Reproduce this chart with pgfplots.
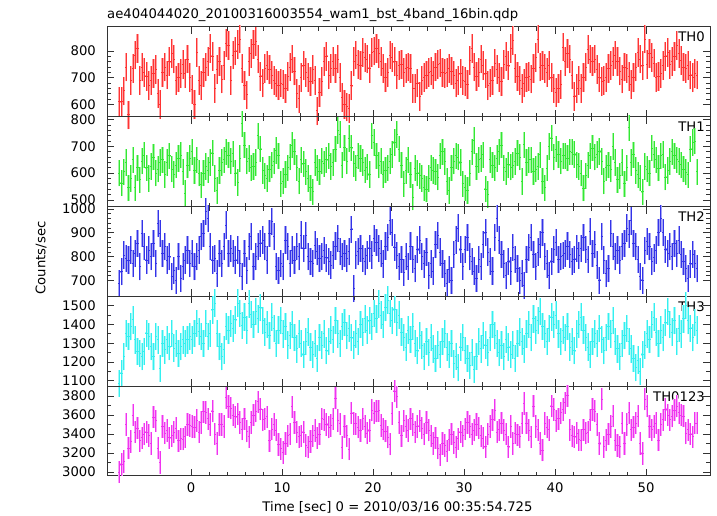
\documentclass[border=0pt]{standalone}
\usepackage{pgfplots}
\usepackage{pgfplotstable}
\pgfplotsset{compat=1.18}
\usepackage{fontspec}
\setmainfont{DejaVu Sans}
\newcommand\fs{\fontsize{13.2bp}{15.8bp}\selectfont}
\definecolor{cA}{RGB}{255,51,51}
\definecolor{cB}{RGB}{51,232,51}
\definecolor{cC}{RGB}{51,51,232}
\definecolor{cD}{RGB}{51,240,240}
\definecolor{cE}{RGB}{240,51,240}

% error-bar mark: vertical +-1 sigma (mark size) and horizontal bin width (0.25 s)
\pgfdeclareplotmark{eb}{%
  \pgfpathmoveto{\pgfqpoint{0pt}{-\pgfplotmarksize}}%
  \pgfpathlineto{\pgfqpoint{0pt}{\pgfplotmarksize}}%
  \pgfpathmoveto{\pgfqpoint{-1.14bp}{0pt}}%
  \pgfpathlineto{\pgfqpoint{1.14bp}{0pt}}%
  \pgfusepathqstroke}

% TH0 (0.25 s bins from t=-7.875 s)
\pgfplotstableread[row sep=\\]{y\\
610\\ 610\\ 650\\ 740\\ 560\\ 690\\ 735\\ 785\\ 810\\ 690\\
740\\ 720\\ 705\\ 670\\ 690\\ 715\\ 730\\ 640\\ 600\\ 720\\
740\\ 710\\ 760\\ 790\\ 770\\ 690\\ 700\\ 715\\ 750\\ 715\\
770\\ 700\\ 655\\ 600\\ 795\\ 690\\ 670\\ 720\\ 740\\ 760\\
810\\ 780\\ 660\\ 730\\ 760\\ 695\\ 745\\ 830\\ 820\\ 690\\
785\\ 800\\ 825\\ 845\\ 735\\ 670\\ 635\\ 760\\ 790\\ 825\\
835\\ 770\\ 705\\ 680\\ 735\\ 745\\ 730\\ 710\\ 690\\ 680\\
670\\ 680\\ 675\\ 660\\ 705\\ 740\\ 770\\ 725\\ 640\\ 620\\
700\\ 745\\ 720\\ 700\\ 685\\ 730\\ 690\\ 575\\ 645\\ 685\\
760\\ 780\\ 710\\ 735\\ 760\\ 735\\ 770\\ 700\\ 625\\ 600\\
590\\ 585\\ 670\\ 760\\ 785\\ 750\\ 745\\ 795\\ 775\\ 770\\
735\\ 795\\ 800\\ 810\\ 790\\ 760\\ 735\\ 700\\ 720\\ 785\\
775\\ 760\\ 710\\ 745\\ 750\\ 720\\ 735\\ 740\\
735\\ 660\\ 660\\ 680\\ 630\\ 690\\ 700\\ 710\\ 720\\ 725\\
710\\ 740\\ 750\\ 755\\ 720\\ 715\\ 720\\ 735\\ 725\\ 710\\
680\\ 690\\ 715\\ 690\\ 685\\ 675\\ 765\\ 810\\ 740\\ 705\\
720\\ 770\\ 745\\ 715\\ 670\\ 680\\ 690\\ 755\\ 730\\ 700\\
685\\ 750\\ 780\\ 745\\ 810\\ 840\\ 735\\ 705\\ 690\\ 660\\
680\\ 700\\ 705\\ 695\\ 735\\ 775\\ 845\\ 740\\ 745\\ 735\\
720\\ 745\\ 700\\ 660\\ 645\\ 660\\ 675\\ 815\\ 760\\ 790\\
770\\ 710\\ 630\\ 660\\ 690\\ 660\\ 700\\ 740\\ 805\\ 770\\
760\\ 770\\ 730\\ 700\\ 685\\ 690\\ 700\\ 735\\ 745\\ 760\\
785\\ 760\\ 725\\ 695\\ 740\\ 735\\ 705\\ 675\\ 700\\ 740\\
795\\ 770\\ 745\\ 845\\ 750\\ 790\\ 775\\ 755\\ 700\\ 705\\
715\\ 745\\ 780\\ 795\\ 750\\ 760\\ 780\\ 820\\ 790\\ 765\\
740\\ 735\\ 745\\ 710\\ 700\\ 715\\ 710\\
}\thA

% TH1
\pgfplotstableread[row sep=\\]{y\\
600\\ 563\\ 605\\ 640\\ 545\\ 580\\ 650\\ 545\\ 620\\ 575\\
645\\ 668\\ 620\\ 580\\ 625\\ 660\\ 600\\ 615\\ 640\\ 650\\
595\\ 640\\ 665\\ 615\\ 595\\ 630\\ 655\\ 668\\ 605\\ 525\\
630\\ 656\\ 680\\ 610\\ 650\\ 600\\ 556\\ 600\\ 625\\ 612\\
640\\ 675\\ 580\\ 535\\ 610\\ 640\\ 650\\ 680\\ 668\\ 645\\
672\\ 600\\ 565\\ 655\\ 785\\ 705\\ 645\\ 655\\ 620\\ 625\\
640\\ 740\\ 690\\ 610\\ 590\\ 580\\ 615\\ 630\\ 645\\ 685\\
665\\ 560\\ 570\\ 595\\ 620\\ 660\\ 705\\ 680\\ 620\\ 570\\
650\\ 635\\ 605\\ 580\\ 545\\ 530\\ 640\\ 620\\ 605\\ 645\\
635\\ 650\\ 665\\ 625\\ 640\\ 690\\ 760\\ 745\\ 630\\ 695\\
645\\ 730\\ 695\\ 635\\ 620\\ 665\\ 655\\ 640\\ 612\\ 622\\
595\\ 740\\ 715\\ 665\\ 630\\ 645\\ 595\\ 612\\ 620\\ 645\\
670\\ 715\\ 745\\ 690\\ 630\\ 560\\ 610\\ 650\\
594\\ 510\\ 619\\ 600\\ 590\\ 580\\ 545\\ 540\\ 580\\ 620\\
610\\ 605\\ 585\\ 665\\ 680\\ 644\\ 569\\ 535\\ 620\\ 645\\
665\\ 660\\ 640\\ 560\\ 545\\ 535\\ 600\\ 680\\ 722\\ 625\\
650\\ 655\\ 669\\ 540\\ 520\\ 650\\ 630\\ 620\\ 655\\ 680\\
705\\ 620\\ 606\\ 631\\ 622\\ 630\\ 644\\ 675\\ 660\\ 569\\
706\\ 640\\ 650\\ 650\\ 606\\ 615\\ 625\\ 669\\ 570\\ 545\\
619\\ 700\\ 731\\ 660\\ 690\\ 670\\ 645\\ 665\\ 665\\ 656\\
680\\ 678\\ 670\\ 631\\ 625\\ 600\\ 544\\ 590\\ 630\\ 665\\
694\\ 660\\ 670\\ 681\\ 644\\ 570\\ 620\\ 630\\ 615\\ 700\\
640\\ 575\\ 590\\ 640\\ 560\\ 620\\ 770\\ 640\\ 669\\ 610\\
594\\ 581\\ 531\\ 625\\ 615\\ 600\\ 694\\ 670\\ 650\\ 619\\
665\\ 670\\ 585\\ 610\\ 644\\ 680\\ 665\\ 650\\ 644\\ 632\\
615\\ 604\\ 594\\ 690\\ 715\\ 719\\ 605\\
}\thB

% TH2
\pgfplotstableread[row sep=\\]{y\\
688\\ 737\\ 807\\ 793\\ 786\\ 828\\ 772\\ 814\\ 856\\ 758\\
898\\ 842\\ 786\\ 828\\ 800\\ 856\\ 772\\ 940\\ 898\\ 814\\
842\\ 786\\ 800\\ 716\\ 744\\ 702\\ 800\\ 709\\ 758\\ 786\\
828\\ 772\\ 814\\ 758\\ 800\\ 828\\ 884\\ 898\\ 990\\ 960\\
842\\ 786\\ 793\\ 730\\ 814\\ 772\\ 842\\ 933\\ 814\\ 835\\
814\\ 786\\ 828\\ 772\\ 716\\ 814\\ 744\\ 842\\ 884\\ 758\\
800\\ 842\\ 856\\ 870\\ 842\\ 786\\ 898\\ 947\\ 884\\ 758\\
744\\ 772\\ 758\\ 870\\ 842\\ 772\\ 828\\ 786\\ 842\\ 800\\
891\\ 835\\ 890\\ 800\\ 779\\ 772\\ 849\\ 821\\ 793\\ 800\\
825\\ 795\\ 779\\ 765\\ 807\\ 845\\ 877\\ 821\\ 800\\ 814\\
793\\ 821\\ 915\\ 667\\ 807\\ 821\\ 835\\ 793\\ 779\\ 807\\
835\\ 807\\ 877\\ 860\\ 835\\
812\\ 770\\ 845\\ 880\\ 950\\ 900\\ 840\\ 805\\ 760\\ 790\\
735\\ 800\\ 760\\ 845\\ 790\\ 750\\ 830\\ 870\\ 800\\ 770\\
820\\ 720\\ 770\\ 740\\ 850\\ 890\\ 820\\ 770\\ 730\\ 690\\
745\\ 700\\ 810\\ 870\\ 920\\ 830\\ 760\\ 830\\ 880\\ 800\\
780\\ 740\\ 710\\ 790\\ 760\\ 850\\ 900\\ 820\\ 780\\ 740\\
880\\ 960\\ 870\\ 810\\ 770\\ 720\\ 780\\ 740\\ 840\\ 790\\
750\\ 700\\ 730\\ 680\\ 790\\ 840\\ 880\\ 810\\ 760\\ 820\\
850\\ 900\\ 800\\ 770\\ 720\\ 780\\ 830\\ 860\\ 790\\ 800\\
805\\ 814\\ 845\\ 810\\ 780\\ 790\\ 835\\ 805\\ 835\\ 880\\
830\\ 790\\ 905\\ 814\\ 850\\ 765\\ 702\\ 884\\ 786\\ 730\\
750\\ 898\\ 842\\ 800\\ 828\\ 786\\ 842\\ 856\\ 920\\ 895\\
950\\ 856\\ 842\\ 790\\ 716\\ 702\\ 825\\ 865\\ 842\\ 780\\
795\\ 828\\ 900\\ 960\\ 900\\ 830\\ 814\\ 842\\ 800\\ 856\\
814\\ 870\\ 810\\ 780\\ 750\\ 710\\ 770\\ 810\\ 770\\ 750\\
}\thC

% TH3
\pgfplotstableread[row sep=\\]{y\\
1087\\ 1140\\ 1229\\ 1353\\ 1336\\ 1389\\ 1425\\ 1318\\ 1256\\ 1247\\
1229\\ 1256\\ 1353\\ 1336\\ 1282\\ 1229\\ 1336\\ 1318\\ 1167\\ 1300\\
1265\\ 1318\\ 1282\\ 1353\\ 1274\\ 1300\\ 1247\\ 1282\\ 1318\\ 1300\\
1318\\ 1336\\ 1318\\ 1353\\ 1407\\ 1362\\ 1336\\ 1300\\ 1407\\ 1336\\
1353\\ 1478\\ 1514\\ 1353\\ 1282\\ 1229\\ 1265\\ 1389\\ 1371\\ 1407\\
1380\\ 1425\\ 1514\\
1460\\ 1395\\ 1440\\ 1370\\ 1510\\ 1455\\ 1400\\ 1470\\ 1430\\ 1490\\
1420\\ 1360\\ 1400\\ 1340\\ 1440\\ 1380\\ 1300\\ 1370\\ 1420\\ 1350\\
1390\\ 1290\\ 1340\\ 1400\\ 1330\\ 1270\\ 1350\\ 1300\\ 1240\\ 1310\\
1360\\ 1280\\ 1240\\ 1300\\ 1220\\ 1330\\ 1290\\ 1350\\ 1260\\ 1310\\
1370\\ 1320\\ 1420\\ 1350\\ 1300\\ 1390\\ 1410\\ 1340\\ 1380\\ 1330\\
1290\\ 1350\\ 1310\\ 1400\\ 1360\\ 1430\\ 1370\\ 1420\\ 1390\\ 1460\\
1430\\ 1510\\ 1450\\ 1400\\ 1490\\ 1530\\ 1460\\ 1420\\ 1480\\ 1410\\
1450\\ 1360\\ 1330\\ 1280\\ 1370\\ 1320\\ 1390\\ 1300\\ 1260\\ 1340\\
1290\\ 1230\\ 1310\\ 1250\\ 1330\\ 1270\\ 1220\\ 1290\\ 1240\\ 1310\\
1350\\ 1280\\ 1240\\ 1300\\ 1190\\ 1230\\ 1170\\ 1280\\ 1330\\ 1260\\
1220\\ 1180\\ 1250\\ 1160\\ 1230\\ 1310\\ 1270\\ 1340\\ 1290\\ 1250\\
1330\\ 1400\\ 1340\\ 1300\\ 1250\\ 1290\\ 1230\\ 1320\\ 1280\\ 1240\\
1290\\ 1220\\ 1300\\ 1360\\ 1310\\ 1270\\ 1350\\ 1400\\ 1330\\ 1430\\
1370\\ 1420\\ 1470\\ 1390\\ 1350\\ 1310\\ 1380\\ 1440\\ 1400\\ 1450\\
1350\\ 1310\\ 1370\\ 1330\\ 1390\\ 1280\\ 1310\\ 1260\\ 1350\\ 1400\\
1440\\ 1370\\ 1330\\ 1280\\ 1240\\ 1310\\ 1350\\ 1300\\ 1380\\ 1320\\
1260\\ 1330\\ 1390\\ 1350\\ 1420\\ 1310\\ 1270\\ 1230\\ 1300\\ 1340\\
1380\\ 1310\\ 1270\\ 1220\\ 1170\\ 1210\\ 1150\\ 1240\\ 1290\\ 1350\\
1320\\ 1400\\ 1440\\ 1360\\ 1300\\ 1370\\ 1330\\ 1410\\ 1470\\ 1400\\
1360\\ 1420\\ 1310\\ 1380\\ 1350\\ 1430\\ 1500\\ 1420\\ 1380\\ 1330\\
1410\\ 1370\\
}\thD

% TH0123
\pgfplotstableread[row sep=\\]{y\\
3000\\ 3080\\ 3110\\ 3500\\ 3250\\ 3320\\ 3600\\ 3420\\ 3460\\ 3330\\
3360\\ 3400\\ 3418\\ 3383\\ 3300\\ 3579\\ 3540\\ 3250\\ 3100\\ 3480\\
3410\\ 3436\\ 3360\\ 3380\\ 3420\\ 3460\\ 3330\\ 3350\\ 3345\\ 3370\\
3500\\ 3490\\ 3480\\ 3470\\ 3543\\ 3420\\ 3520\\ 3633\\ 3625\\ 3560\\
3500\\ 3640\\ 3400\\ 3300\\ 3500\\ 3500\\ 3480\\ 3780\\ 3690\\ 3670\\
3600\\ 3580\\ 3610\\ 3520\\ 3450\\ 3560\\ 3430\\ 3370\\ 3520\\ 3600\\
3640\\ 3740\\ 3660\\ 3550\\ 3560\\ 3580\\ 3330\\ 3450\\ 3500\\ 3440\\
3290\\ 3245\\ 3205\\ 3300\\ 3380\\ 3400\\ 3686\\ 3520\\ 3420\\ 3370\\
3380\\ 3420\\ 3280\\ 3260\\ 3320\\ 3380\\ 3436\\ 3360\\ 3400\\ 3561\\
3550\\ 3500\\ 3470\\ 3490\\ 3560\\ 3775\\ 3543\\ 3508\\ 3258\\ 3480\\
3380\\ 3240\\ 3620\\ 3510\\ 3508\\ 3470\\ 3436\\ 3560\\ 3480\\ 3410\\
3436\\ 3651\\ 3620\\ 3640\\ 3645\\ 3490\\ 3450\\ 3430\\ 3365\\ 3293\\
3615\\ 3850\\ 3793\\ 3520\\ 3380\\ 3540\\ 3480\\ 3436\\
3560\\ 3500\\ 3420\\ 3480\\ 3540\\ 3460\\ 3400\\ 3520\\ 3440\\ 3380\\
3300\\ 3360\\ 3250\\ 3180\\ 3300\\ 3280\\ 3220\\ 3340\\ 3400\\ 3310\\
3260\\ 3350\\ 3420\\ 3380\\ 3450\\ 3520\\ 3480\\ 3400\\ 3440\\ 3500\\
3460\\ 3380\\
3354\\ 3265\\ 3400\\ 3479\\ 3550\\ 3650\\ 3420\\ 3444\\ 3515\\ 3440\\
3400\\ 3265\\ 3479\\ 3300\\ 3408\\ 3390\\ 3372\\ 3515\\ 3720\\ 3515\\
3440\\ 3372\\ 3693\\ 3479\\ 3444\\ 3300\\ 3229\\ 3510\\ 3470\\ 3444\\
3693\\ 3658\\ 3540\\ 3560\\ 3622\\ 3658\\ 3729\\ 3801\\ 3444\\ 3380\\
3372\\ 3408\\ 3340\\ 3336\\ 3444\\ 3408\\ 3420\\ 3550\\ 3658\\ 3640\\
3500\\ 3301\\ 3765\\ 3265\\ 3336\\ 3400\\ 3479\\ 3586\\ 3336\\ 3280\\
3265\\ 3515\\ 3301\\ 3500\\ 3622\\ 3444\\ 3470\\ 3515\\ 3586\\ 3300\\
3194\\ 3765\\ 3693\\ 3479\\ 3444\\ 3480\\ 3515\\ 3336\\ 3500\\ 3550\\
3658\\ 3600\\ 3550\\ 3586\\ 3650\\ 3693\\ 3622\\ 3600\\ 3586\\ 3408\\
3444\\ 3400\\ 3372\\ 3515\\ 3515\\
}\thE

\pgfplotsset{
  panel/.style={
    scale only axis, width=603bp, height=89.8bp, anchor=south west,
    xmin=-9.23, xmax=57.03, xtick={0,10,...,50}, minor x tick num=4,
    major tick length=7bp, minor tick length=4bp,
    tick style={black!80, line width=0.8bp},
    axis line style={black!80, line width=1bp},
    tick label style={font=\fs},
    /pgf/number format/assume math mode=true,
    /pgf/number format/1000 sep={},
    scaled y ticks=false,
    yticklabel style={inner sep=0pt, xshift=-11bp},
    xticklabel style={anchor=base, yshift=-17bp},
  },
  nox/.style={xticklabels={}},
  halo/.style 2 args={color=#1!45!white, only marks, mark=eb, mark size=#2,
    mark options={line width=2.2bp}},
  core/.style 2 args={color=#1, only marks, mark=eb, mark size=#2,
    mark options={line width=0.9bp}},
}
\newcommand\lc[3]{%
  \addplot[halo={#1}{#2}] table[x expr=\coordindex*0.25-7.875, y=y]{#3};
  \addplot[core={#1}{#2}] table[x expr=\coordindex*0.25-7.875, y=y]{#3};
}

\begin{document}
\begin{tikzpicture}
\path[use as bounding box] (0,0) rectangle (717bp,516bp);

\begin{axis}[panel, nox, at={(107bp,399.2bp)}, ymin=553, ymax=890,
  ytick={600,700,800}, minor y tick num=4]
\lc{cA}{14.39bp}{\thA}
\node[anchor=north east, inner sep=0pt, font=\fs, xshift=-5bp, yshift=-5bp] at (rel axis cs:1,1) {TH0};
\end{axis}

\begin{axis}[panel, nox, at={(107bp,309.4bp)}, ymin=475, ymax=811,
  ytick={500,600,700,800}, minor y tick num=4]
\lc{cB}{13.10bp}{\thB}
\node[anchor=north east, inner sep=0pt, font=\fs, xshift=-5bp, yshift=-5bp] at (rel axis cs:1,1) {TH1};
\end{axis}

\begin{axis}[panel, nox, at={(107bp,219.6bp)}, ymin=634, ymax=1010,
  ytick={700,800,900,1000}, minor y tick num=4]
\lc{cC}{13.61bp}{\thC}
\node[anchor=north east, inner sep=0pt, font=\fs, xshift=-5bp, yshift=-5bp] at (rel axis cs:1,1) {TH2};
\end{axis}

\begin{axis}[panel, nox, at={(107bp,129.8bp)}, ymin=1071, ymax=1550,
  ytick={1100,1200,1300,1400,1500}, minor y tick num=1]
\lc{cD}{13.69bp}{\thD}
\node[anchor=north east, inner sep=0pt, font=\fs, xshift=-5bp, yshift=-5bp] at (rel axis cs:1,1) {TH3};
\end{axis}

\begin{axis}[panel, at={(107bp,40bp)}, ymin=2958, ymax=3903,
  ytick={3000,3200,3400,3600,3800}, minor y tick num=1]
\lc{cE}{11.12bp}{\thE}
\node[anchor=north east, inner sep=0pt, font=\fs, xshift=-5bp, yshift=-5bp] at (rel axis cs:1,1) {TH0123};
\end{axis}

\node[anchor=base west, inner sep=0pt, font=\fs] at (107bp,497bp) {ae404044020\_20100316003554\_wam1\_bst\_4band\_16bin.qdp};
\node[anchor=base, inner sep=0pt, font=\fs] at (397.5bp,4.5bp) {Time [sec] 0 = 2010/03/16 00:35:54.725};
\node[rotate=90, inner sep=0pt, font=\fs] at (41bp,258bp) {Counts/sec};
\end{tikzpicture}
\end{document}
